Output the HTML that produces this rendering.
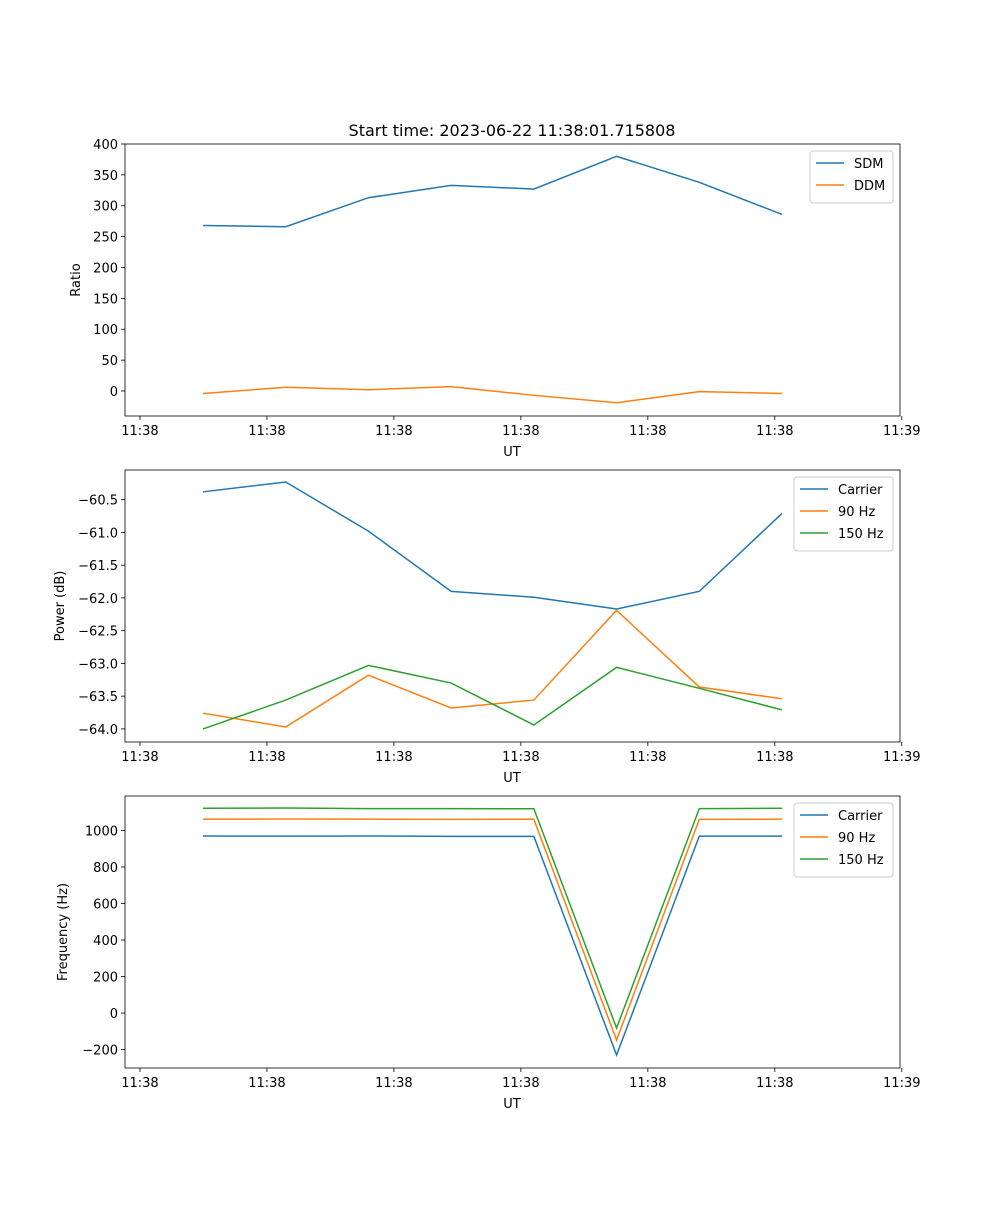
<!DOCTYPE html>
<html><head><meta charset="utf-8"><style>
body{margin:0;background:#fff;font-family:"Liberation Sans","DejaVu Sans",sans-serif}
svg text{font-family:"DejaVu Sans","Liberation Sans",sans-serif;fill:#000}
</style></head><body>
<svg id="c" width="1000" height="1200" xmlns="http://www.w3.org/2000/svg"></svg>
<script>
const idx=[0,1,2,3,4,5,6,7];
const xTicks=[-0.762,0.773,2.308,3.843,5.378,6.913,8.448];
const xTickLabels=["11:38","11:38","11:38","11:38","11:38","11:38","11:39"];
const sdm=[268,266,313,333,327,380,338,286];
const ddm=[-4,6,2,7,-7,-19,-1,-4];
const pCarrier=[-60.38,-60.23,-60.98,-61.90,-61.99,-62.17,-61.90,-60.71];
const p90=[-63.76,-63.97,-63.18,-63.68,-63.56,-62.19,-63.36,-63.54];
const p150=[-64.0,-63.56,-63.03,-63.30,-63.94,-63.06,-63.38,-63.71];
const fCarrier=[970,969,970,968,968,-230,969,969];
const f90=[1062,1063,1062,1061,1062,-148,1061,1062];
const f150=[1122,1123,1120,1120,1119,-82,1120,1122];
const yT1=[0,50,100,150,200,250,300,350,400];
const yT2=[-64.0,-63.5,-63.0,-62.5,-62.0,-61.5,-61.0,-60.5];
const yT3=[-200,0,200,400,600,800,1000];
const NS="http://www.w3.org/2000/svg";
const svg=document.getElementById('c');
const X0=125,X1=900;
function xs(i){return 203+(782-203)*i/7;}
function mk(tag,attrs,parent){const e=document.createElementNS(NS,tag);for(const k in attrs)e.setAttribute(k,attrs[k]);(parent||svg).appendChild(e);return e;}
function panel(key,top,bot,ymin,ymax,ticks,fmt,ylabel,series,legend,legW){
  const g=mk('g',{});
  
  
  const ys=v=>bot-(v-ymin)/(ymax-ymin)*(bot-top);
  ticks.forEach(t=>{const y=ys(t);
    mk('line',{x1:X0-4,x2:X0,y1:y,y2:y,stroke:'#000','stroke-width':0.8},g);
    const tx=mk('text',{x:X0-7,y:y+5,'text-anchor':'end','font-size':13},g);tx.textContent=fmt(t);
    
    });
  xTicks.forEach((t,i)=>{const x=xs(t);
    mk('line',{x1:x,x2:x,y1:bot,y2:bot+4,stroke:'#000','stroke-width':0.8},g);
    const tx=mk('text',{x:x,y:bot+19,'text-anchor':'middle','font-size':13},g);tx.textContent=xTickLabels[i];
    
    });
  series.forEach(s=>{
    const p=mk('polyline',{points:s.d.map((v,i)=>xs(idx[i])+','+ys(v)).join(' '),fill:'none',stroke:s.c,'stroke-width':1.5},g);
    
    });
  mk('rect',{x:X0,y:top,width:X1-X0,height:bot-top,fill:'none',stroke:'#000','stroke-width':0.8},g);
  const xl=mk('text',{x:512,y:bot+40,'text-anchor':'middle','font-size':13},g);xl.textContent='UT';
  
  
  const yl=mk('text',{x:0,y:0,'text-anchor':'middle','font-size':13,transform:`translate(${legend.ylx},${(top+bot)/2}) rotate(-90)`},g);yl.textContent=ylabel;
  
  
  const lx=X1-7-legW,ly=top+7,h=series.length*22+8;
  const lg=mk('g',{},g);
  
  
  mk('rect',{x:lx,y:ly,width:legW,height:h,rx:3,fill:'#fff',stroke:'#ccc','stroke-width':1},lg);
  series.forEach((s,i)=>{const y=ly+12+i*22;
    mk('line',{x1:lx+6,x2:lx+34,y1:y,y2:y,stroke:s.c,'stroke-width':1.5},lg);
    const t=mk('text',{x:lx+44,y:y+5,'font-size':13},lg);t.textContent=s.n;
    
    });
}
const B='#1f77b4',O='#ff7f0e',G='#2ca02c';
panel('ratio',144,416,-40.5,400,yT1,v=>String(v),'Ratio',[{n:'SDM',d:sdm,c:B},{n:'DDM',d:ddm,c:O}],{ylx:80},83);
panel('power',470,742,-64.2,-60.047,yT2,v=>'\u2212'+Math.abs(v).toFixed(1),'Power (dB)',[{n:'Carrier',d:pCarrier,c:B},{n:'90 Hz',d:p90,c:O},{n:'150 Hz',d:p150,c:G}],{ylx:64},99);
panel('frequency',796,1068,-301,1189,yT3,v=>v<0?'\u2212'+Math.abs(v):String(v),'Frequency (Hz)',[{n:'Carrier',d:fCarrier,c:B},{n:'90 Hz',d:f90,c:O},{n:'150 Hz',d:f150,c:G}],{ylx:67},99);
const tt=mk('text',{x:512,y:136,'text-anchor':'middle','font-size':16});tt.textContent='Start time: 2023-06-22 11:38:01.715808';


</script>
</body></html>
